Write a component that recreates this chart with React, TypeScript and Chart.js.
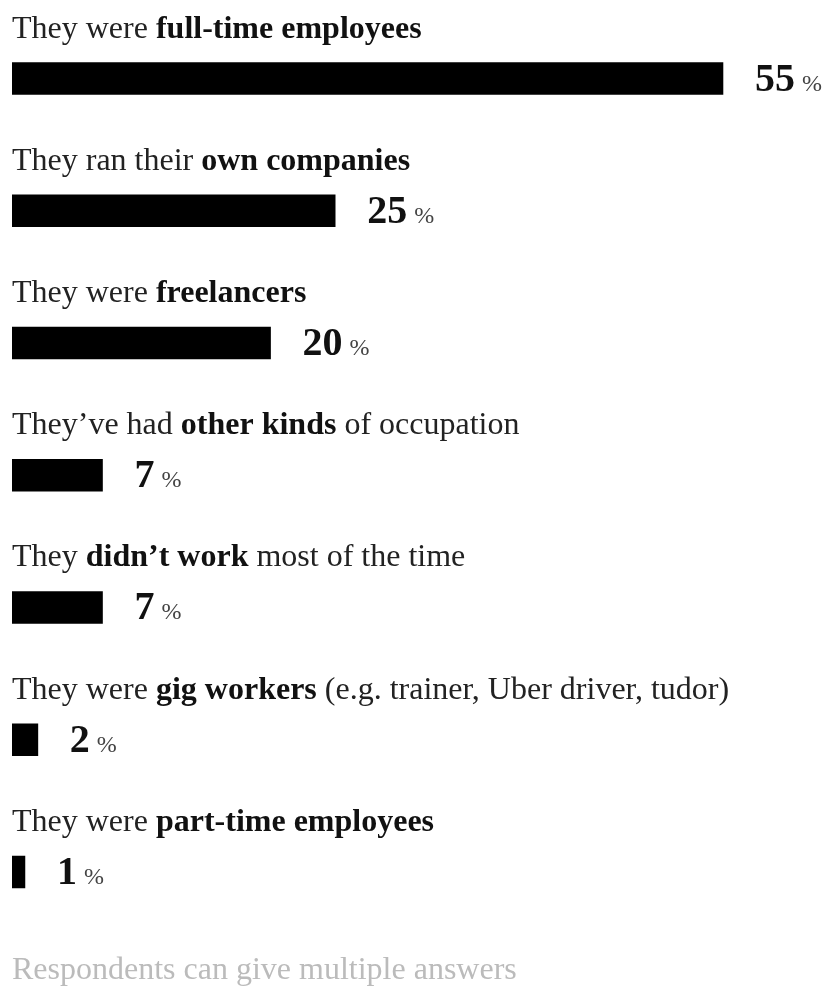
import React, { useEffect, useRef } from "react";
import { Chart, registerables } from "chart.js";

Chart.register(...registerables);

const categories = [
  "They were full-time employees",
  "They ran their own companies",
  "They were freelancers",
  "They’ve had other kinds of occupation",
  "They didn’t work most of the time",
  "They were gig workers (e.g. trainer, Uber driver, tudor)",
  "They were part-time employees",
];
const boldParts = [
  "full-time employees",
  "own companies",
  "freelancers",
  "other kinds",
  "didn’t work",
  "gig workers",
  "part-time employees",
];
const values = [55, 25, 20, 7, 7, 2, 1];
const unit = "%";
const footnote = "Respondents can give multiple answers";

const SERIF = '"Liberation Serif", "Times New Roman", serif';

const labelPlugin = {
  id: "richLabels",
  afterDatasetsDraw(chart: any) {
    const ctx = chart.ctx as CanvasRenderingContext2D;
    const meta = chart.getDatasetMeta(0);
    const left = chart.chartArea.left;
    ctx.save();
    ctx.textBaseline = "alphabetic";
    ctx.textAlign = "left";
    meta.data.forEach((bar: any, i: number) => {
      const text = categories[i];
      const bold = boldParts[i];
      const idx = text.indexOf(bold);
      const segs: [string, boolean][] =
        idx >= 0
          ? [
              [text.slice(0, idx), false],
              [bold, true],
              [text.slice(idx + bold.length), false],
            ]
          : [[text, false]];
      let x = left;
      const yl = bar.y - 41;
      segs.forEach(([s, b]) => {
        if (!s) return;
        ctx.font = (b ? "bold " : "") + "32px " + SERIF;
        ctx.fillStyle = b ? "#111" : "#222";
        ctx.fillText(s, x, yl);
        x += ctx.measureText(s).width;
      });
      // value label
      const vx = bar.x + 32;
      const vy = bar.y + 12;
      ctx.font = "bold 40px " + SERIF;
      ctx.fillStyle = "#111";
      const vs = String(values[i]);
      ctx.fillText(vs, vx, vy);
      const vw = ctx.measureText(vs).width;
      ctx.font = "24px " + SERIF;
      ctx.fillStyle = "#444";
      ctx.fillText(unit, vx + vw + 7, vy);
    });
    ctx.font = "32px " + SERIF;
    ctx.fillStyle = "#bbbbbb";
    ctx.fillText(footnote, left, 979);
    ctx.restore();
  },
};

export default function App() {
  const ref = useRef<HTMLCanvasElement>(null);
  useEffect(() => {
    if (!ref.current) return;
    const chart = new Chart(ref.current, {
      type: "bar",
      data: {
        labels: categories,
        datasets: [
          {
            data: values,
            backgroundColor: "#000000",
            borderWidth: 0,
            barThickness: 32,
          },
        ],
      },
      options: {
        indexAxis: "y",
        responsive: false,
        maintainAspectRatio: false,
        devicePixelRatio: 1,
        animation: false,
        layout: { padding: { left: 12, right: 42.4, top: 12.4, bottom: 47.9 } },
        plugins: {
          legend: { display: false },
          tooltip: { enabled: false },
          title: { display: false },
        },
        scales: {
          x: { type: "linear", min: 0, max: 60, display: false },
          y: { type: "category", display: false, offset: true },
        },
      },
      plugins: [labelPlugin],
    });
    return () => chart.destroy();
  }, []);
  return (
    <div style={{ position: "absolute", left: 0, top: 0, width: 830, height: 986, background: "#fff" }}>
      <canvas ref={ref} width={830} height={986} style={{ display: "block" }} />
    </div>
  );
}
